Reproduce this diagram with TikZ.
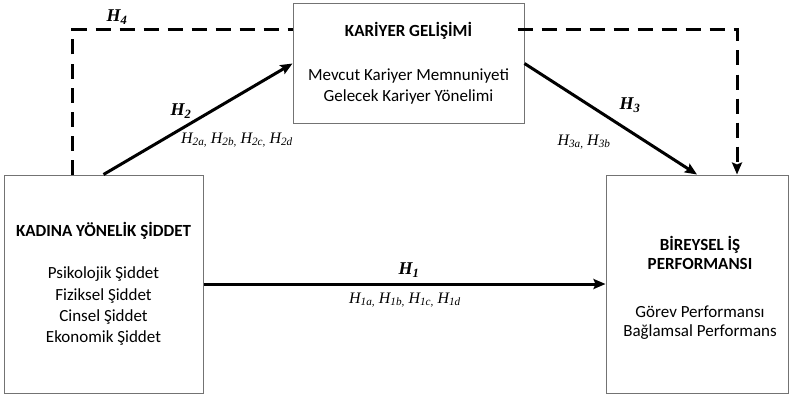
\documentclass[tikz,border=0pt]{standalone}
\usepackage{fontspec}
\setmainfont{Carlito}
\newfontfamily\hfont{Liberation Serif}
\usetikzlibrary{arrows.meta}
% hypothesis labels: bold italic main label, plain italic sub-labels
\newcommand{\Hmain}[1]{{\hfont\bfseries\itshape H\textsubscript{#1}}}
\newcommand{\Hsub}[1]{{\hfont\itshape H\textsubscript{#1}}}

\begin{document}
\begin{tikzpicture}[x=1pt,y=-1pt,
  box/.style={draw=black!55, line width=1pt, fill=white, align=center,
    inner sep=0pt, font=\fontsize{17}{21.3}\selectfont},
  boxtext/.style={align=center, inner sep=0pt, font=\fontsize{17}{19}\selectfont},
  hyparrow/.style={line width=3pt, -{Stealth[length=12pt,width=10pt,inset=2pt]}},
  hypdash/.style={line width=3pt, dash pattern=on 15pt off 9pt},
  bigH/.style={font=\fontsize{18}{18}\selectfont},
  smallH/.style={font=\fontsize{16}{16}\selectfont}]
\useasboundingbox (0,0) rectangle (789,396);

% constructs
\node[box, minimum width=199pt, minimum height=218pt] (kys) at (103.5,284)
  {\textbf{KADINA YÖNELİK ŞİDDET}\\[21pt]
   Psikolojik Şiddet\\Fiziksel Şiddet\\Cinsel Şiddet\\Ekonomik Şiddet};
\node[box, minimum width=231pt, minimum height=119pt] (kar) at (408.5,63.5)
  {\textbf{KARİYER GELİŞİMİ}\\[22pt]
   Mevcut Kariyer Memnuniyeti\\Gelecek Kariyer Yönelimi};
\node[box, minimum width=182pt, minimum height=218pt] (perf) at (697,284) {};
\node[boxtext] (perftext) at (700,288)
  {\textbf{BİREYSEL İŞ}\\\textbf{PERFORMANSI}\\[29pt]
   Görev Performansı\\Bağlamsal Performans};

% mediation path H4 (dashed)
\coordinate (d1) at (72,30);
\coordinate (d2) at (737,30);
\draw[hypdash] (kys.north -| d1) -- (d1) -- (kar.west |- d1);
\draw[hypdash, -{Stealth[length=12pt,width=10pt,inset=2pt]}]
  ([xshift=-7pt]kar.east |- d2) -- (d2) -- (perf.north -| d2);

% direct paths
\draw[hyparrow] (kys.north) -- (kar.west);
\draw[hyparrow] (kar.east) -- (perf.north);
\draw[hyparrow] (kys.east) -- (perf.west);

% labels
\node[bigH] (h4) at (117,17) {\Hmain{4}};
\node[bigH] (h2) at (181,111) {\Hmain{2}};
\node[smallH] (h2s) at (237,140) {\Hsub{2a,} \Hsub{2b,} \Hsub{2c,} \Hsub{2d}};
\node[bigH] (h3) at (630,105) {\Hmain{3}};
\node[smallH] (h3s) at (584,142) {\Hsub{3a,} \Hsub{3b}};
\node[bigH] (h1) at (409,270) {\Hmain{1}};
\node[smallH] (h1s) at (405,300) {\Hsub{1a,} \Hsub{1b,} \Hsub{1c,} \Hsub{1d}};
\end{tikzpicture}
\end{document}
